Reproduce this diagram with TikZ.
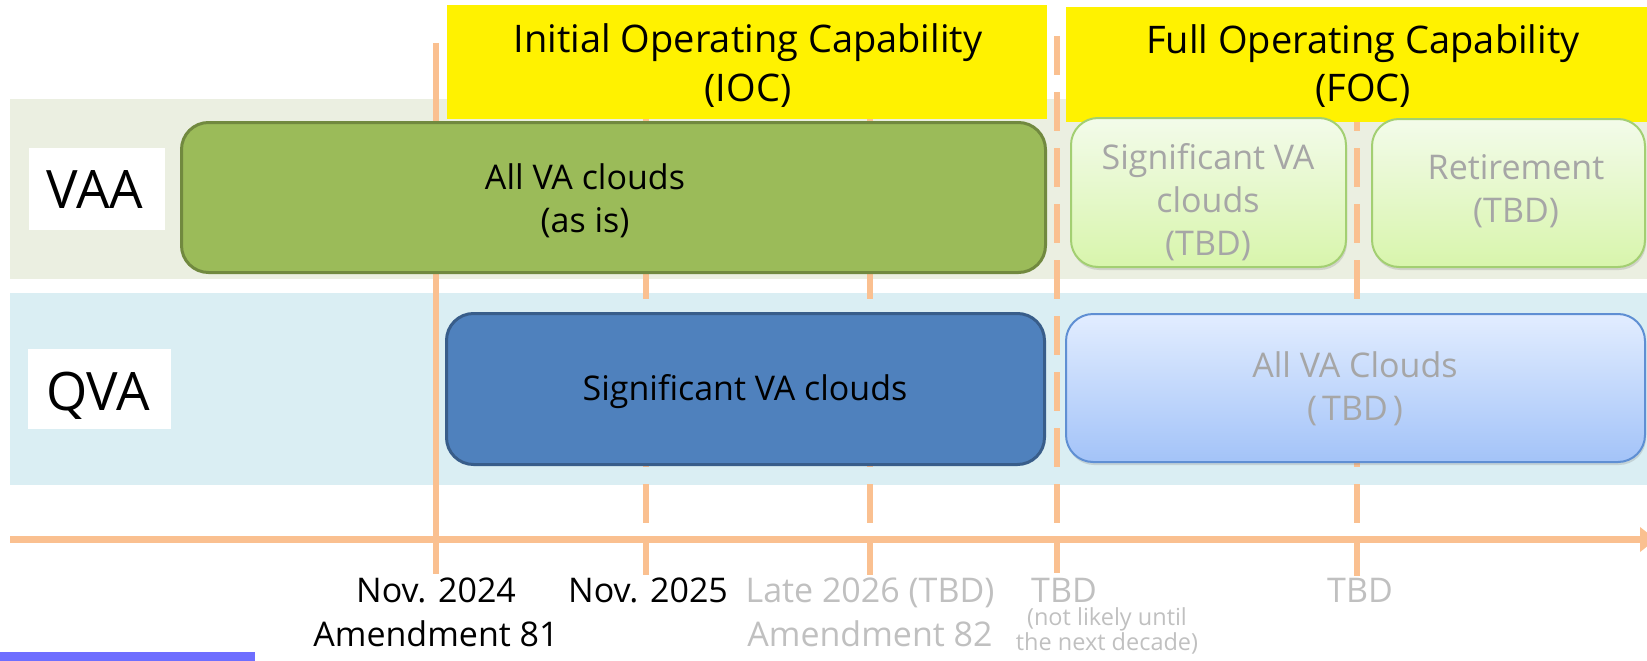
\documentclass[tikz,border=0pt]{standalone}
\usepackage{fontspec}
\setmainfont{Open Sans}
\usetikzlibrary{arrows.meta,shadows}
\definecolor{vaaband}{HTML}{EBEFE1}
\definecolor{qvaband}{HTML}{DAEEF3}
\definecolor{tl}{HTML}{FAC090}
\definecolor{gfill}{HTML}{9BBB59}
\definecolor{gdraw}{HTML}{71893F}
\definecolor{bfill}{HTML}{4F81BD}
\definecolor{bdraw}{HTML}{385D8A}
\definecolor{lgtop}{HTML}{F3FBEA}
\definecolor{lgbot}{HTML}{D8F5AC}
\definecolor{lgdraw}{HTML}{A3CF72}
\definecolor{lbtop}{HTML}{E2EDFF}
\definecolor{lbbot}{HTML}{A3C3F8}
\definecolor{lbdraw}{HTML}{5F8FD3}
\definecolor{gtext}{HTML}{A6A6A6}
\definecolor{ltext}{HTML}{C0C0C0}
\definecolor{logo}{HTML}{6E6EFF}
\begin{document}
\begin{tikzpicture}[x=1pt,y=-1pt,
  roundbox/.style={rounded corners=27pt, inner sep=0pt, line width=3pt},
  greenbox/.style={roundbox, fill=gfill, draw=gdraw},
  bluebox/.style={roundbox, fill=bfill, draw=bdraw},
  lgbox/.style={roundbox, line width=2pt, draw=lgdraw, top color=lgtop, bottom color=lgbot,
    drop shadow={shadow xshift=1pt, shadow yshift=-3pt, opacity=0.25}},
  lbbox/.style={roundbox, line width=2pt, draw=lbdraw, top color=lbtop, bottom color=lbbot,
    drop shadow={shadow xshift=1pt, shadow yshift=-3pt, opacity=0.25}},
  yellowbox/.style={fill=yellow, draw=none, inner sep=0pt},
  labelbox/.style={fill=white, draw=none, inner sep=0pt},
  labeltext/.style={font=\fontsize{53}{60}\selectfont, inner sep=0pt},
  headtext/.style={font=\fontsize{38}{48}\selectfont, align=center, inner sep=0pt},
  boxtext/.style={font=\fontsize{34}{43}\selectfont, align=center, inner sep=0pt},
  datetext/.style={font=\fontsize{34}{44}\selectfont, align=center, inner sep=0pt},
  smalltext/.style={font=\fontsize{23.5}{23}\selectfont, align=center, inner sep=0pt, text=ltext},
  tline/.style={draw=tl, line width=6pt},
  tdash/.style={tline, dash pattern=on 39pt off 17pt}
]
\useasboundingbox (0,0) rectangle (1647,661);
\clip (0,0) rectangle (1647,661);
% bands
\fill[vaaband] (10,99) rectangle (1647,279);
\fill[qvaband] (10,293) rectangle (1647,485);
% timeline markers
\coordinate (m1t) at (436,43);   \coordinate (m1b) at (436,574);
\coordinate (m2t) at (646,36);   \coordinate (m2b) at (646,575);
\coordinate (m3t) at (870,36);   \coordinate (m3b) at (870,575);
\coordinate (m4t) at (1057,36);  \coordinate (m4b) at (1057,573);
\coordinate (m5t) at (1357,36);  \coordinate (m5b) at (1357,576);
\draw[tline] (m1t) -- (m1b);
\draw[tdash] (m2t) -- (m2b);
\draw[tdash] (m3t) -- (m3b);
\draw[tdash] (m4t) -- (m4b);
\draw[tdash] (m5t) -- (m5b);
% axis
\coordinate (axs) at (10,539.5);
\coordinate (axe) at (1656,539.5);
\draw[tline, line width=7pt, -{Triangle[length=16pt,width=24pt]}] (axs) -- (axe);
% phase headers
\node[yellowbox, minimum width=600pt, minimum height=114pt] (ioc) at (747,62) {};
\node[yellowbox, minimum width=594pt, minimum height=115pt] (foc) at (1363,64.5) {};
\node[headtext, anchor=base] (ioct) at (748,101) {Initial Operating Capability\\(IOC)};
\node[headtext, anchor=base] (foct) at (1363,102) {Full Operating Capability\\(FOC)};
% row labels
\node[labelbox, minimum width=136pt, minimum height=82pt] (vaa) at (97,189) {};
\node[labeltext, anchor=base] (vaat) at (95,208) {VAA};
\node[labelbox, minimum width=143pt, minimum height=80pt] (qva) at (99.5,389) {};
\node[labeltext, anchor=base] (qvat) at (98,410) {QVA};
% boxes
\node[greenbox, minimum width=864pt, minimum height=150pt] (vaaioc) at (613.5,197.5) {};
\node[boxtext, anchor=base] (vaaioct) at (585,232) {All VA clouds\\(as is)};
\node[bluebox, minimum width=598pt, minimum height=151pt] (qvaioc) at (745.5,389) {};
\node[boxtext, anchor=base] (qvaioct) at (745,400) {Significant VA clouds};
\node[lgbox, minimum width=275pt, minimum height=149pt] (vaafoc1) at (1208.5,192.5) {};
\node[boxtext, text=gtext, anchor=base] (vaafoc1t) at (1208,255) {Significant VA\\clouds\\(TBD)};
\node[lgbox, minimum width=273pt, minimum height=148pt] (vaafoc2) at (1508.5,193) {};
\node[boxtext, text=gtext, anchor=base] (vaafoc2t) at (1516,222) {Retirement\\(TBD)};
\node[lbbox, minimum width=579pt, minimum height=148pt] (qvafoc) at (1355.5,388) {};
\node[boxtext, text=gtext, anchor=base] (qvafoct) at (1355,420) {All VA Clouds\\(\hspace{5pt}TBD\hspace{5pt})};
% dates
\node[datetext, anchor=base] (d1) at (436,646) {Nov. 2024\\Amendment 81};
\node[datetext, anchor=base] (d2) at (648,602) {Nov. 2025};
\node[datetext, text=ltext, anchor=base] (d3) at (870,646) {Late 2026 (TBD)\\Amendment 82};
\node[datetext, text=ltext, anchor=base] (d4) at (1064,602) {TBD};
\node[smalltext, anchor=base] (d4n) at (1107,650) {(not likely until\\the next decade)};
\node[datetext, text=ltext, anchor=base] (d5) at (1360,602) {TBD};
% logo strip
\fill[logo] (0,652) rectangle (255,661);
\end{tikzpicture}
\end{document}
